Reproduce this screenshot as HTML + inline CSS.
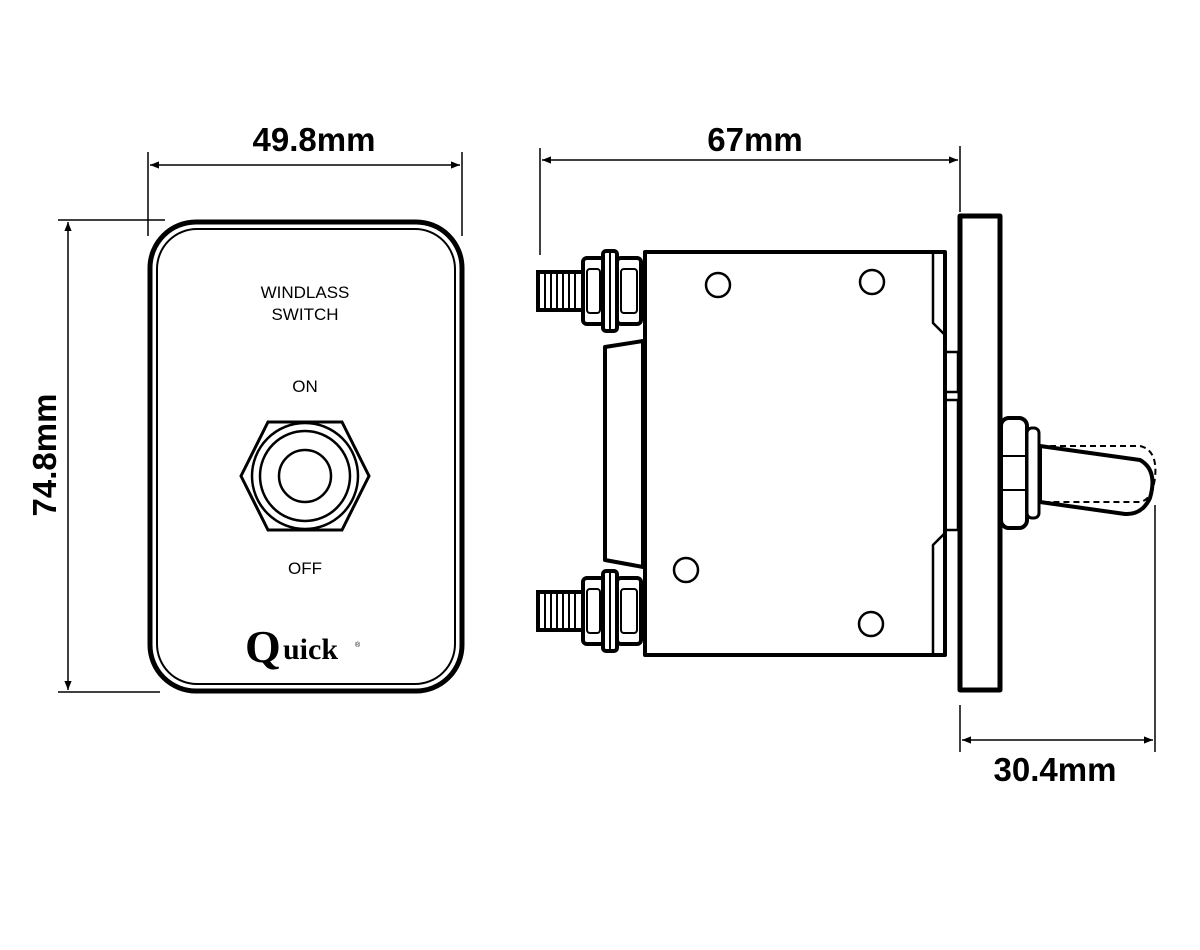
<!DOCTYPE html>
<html><head><style>
html,body{margin:0;padding:0;background:#fff;}
svg{display:block;}
text{font-family:"Liberation Sans",Arial,sans-serif;}
</style></head><body>
<svg width="1200" height="950" viewBox="0 0 1200 950" xmlns="http://www.w3.org/2000/svg">
<defs>
<marker id="ar" viewBox="0 0 10 10" refX="10" refY="5" markerWidth="12" markerHeight="9" orient="auto-start-reverse" markerUnits="userSpaceOnUse">
<path d="M0,1 L10,5 L0,9 Z" fill="#000"/></marker>
<g id="term" stroke="#000" fill="#fff">
<rect x="538" y="-19" width="46" height="38" stroke-width="4"/>
<g stroke-width="2"><line x1="545" y1="-17" x2="545" y2="17"/><line x1="551" y1="-17" x2="551" y2="17"/><line x1="557" y1="-17" x2="557" y2="17"/><line x1="563" y1="-17" x2="563" y2="17"/><line x1="569" y1="-17" x2="569" y2="17"/><line x1="575" y1="-17" x2="575" y2="17"/></g>
<rect x="583" y="-33" width="21" height="66" rx="4" stroke-width="4"/>
<rect x="587" y="-22" width="13" height="44" rx="3" stroke-width="2"/>
<rect x="603" y="-40" width="14" height="80" rx="3" stroke-width="4"/>
<line x1="610" y1="-38" x2="610" y2="38" stroke-width="2"/>
<rect x="617" y="-33" width="24" height="66" rx="4" stroke-width="4"/>
<rect x="621" y="-22" width="16" height="44" rx="3" stroke-width="2"/>
</g>
</defs>

<!-- Front panel -->
<rect x="150" y="222" width="312" height="469" rx="46" fill="#fff" stroke="#000" stroke-width="5"/>
<rect x="157" y="229" width="298" height="455" rx="40" fill="none" stroke="#000" stroke-width="2"/>
<text x="305" y="298" font-size="17" text-anchor="middle">WINDLASS</text>
<text x="305" y="320" font-size="17" text-anchor="middle">SWITCH</text>
<text x="305" y="392" font-size="17" text-anchor="middle">ON</text>
<text x="305" y="574" font-size="17" text-anchor="middle">OFF</text>
<polygon points="241,476 268,422 342,422 369,476 342,530 268,530" fill="#fff" stroke="#000" stroke-width="3"/>
<circle cx="305" cy="476" r="53" fill="none" stroke="#000" stroke-width="2.5"/>
<circle cx="305" cy="476" r="45" fill="none" stroke="#000" stroke-width="2.5"/>
<circle cx="305" cy="476" r="26" fill="none" stroke="#000" stroke-width="2.5"/>
<text x="245" y="662" style="font-family:'Liberation Serif',serif;font-size:46px;font-weight:bold">Q</text>
<text x="283" y="659" style="font-family:'Liberation Serif',serif;font-size:30px;font-weight:bold">uick</text>
<text x="355" y="647" font-size="7">®</text>

<!-- dims -->
<g stroke="#000" stroke-width="1.5" fill="none">
<line x1="148" y1="152" x2="148" y2="236"/>
<line x1="462" y1="152" x2="462" y2="236"/>
<line x1="150" y1="165" x2="460" y2="165" marker-start="url(#ar)" marker-end="url(#ar)"/>
<line x1="58" y1="220" x2="165" y2="220"/>
<line x1="58" y1="692" x2="160" y2="692"/>
<line x1="68" y1="222" x2="68" y2="690" marker-start="url(#ar)" marker-end="url(#ar)"/>
<line x1="540" y1="148" x2="540" y2="255"/>
<line x1="960" y1="146" x2="960" y2="212"/>
<line x1="542" y1="160" x2="958" y2="160" marker-start="url(#ar)" marker-end="url(#ar)"/>
<line x1="960" y1="705" x2="960" y2="752"/>
<line x1="1155" y1="505" x2="1155" y2="752"/>
<line x1="962" y1="740" x2="1153" y2="740" marker-start="url(#ar)" marker-end="url(#ar)"/>
</g>
<text x="314" y="151" font-size="33" font-weight="bold" text-anchor="middle">49.8mm</text>
<text x="755" y="151" font-size="33" font-weight="bold" text-anchor="middle">67mm</text>
<text x="1055" y="781" font-size="33" font-weight="bold" text-anchor="middle">30.4mm</text>
<text transform="translate(56,455) rotate(-90)" font-size="33" font-weight="bold" text-anchor="middle">74.8mm</text>

<!-- side view -->
<g stroke="#000" fill="#fff" stroke-linejoin="round">
<polygon points="605,347 643,341 643,567 605,560" stroke-width="4"/>
<rect x="645" y="252" width="300" height="403" stroke-width="4"/>
<polyline points="933,254 933,323 945,335" fill="none" stroke-width="2.5"/>
<polyline points="933,653 933,545 945,533" fill="none" stroke-width="2.5"/>
<polyline points="945,352 958,352 958,392 945,392" fill="none" stroke-width="2.5"/>
<polyline points="945,400 958,400 958,530 945,530" fill="none" stroke-width="2.5"/>
<circle cx="718" cy="285" r="12" stroke-width="2.5"/>
<circle cx="872" cy="282" r="12" stroke-width="2.5"/>
<circle cx="686" cy="570" r="12" stroke-width="2.5"/>
<circle cx="871" cy="624" r="12" stroke-width="2.5"/>
<rect x="960" y="216" width="40" height="474" stroke-width="5"/>
<path d="M1040,446 L1140,460 Q1158,470 1150,498 Q1142,515 1125,514 L1040,502 Z" stroke-width="4"/>
<path d="M1040,446 L1140,446 Q1158,450 1155,478 Q1152,500 1140,502 L1040,502" fill="none" stroke-width="2" stroke-dasharray="6,4"/>
<rect x="1001" y="418" width="26" height="110" rx="8" stroke-width="4"/>
<line x1="1003" y1="456" x2="1025" y2="456" stroke-width="2"/>
<line x1="1003" y1="490" x2="1025" y2="490" stroke-width="2"/>
<rect x="1027" y="428" width="12" height="90" rx="5" stroke-width="3"/>
</g>
<use href="#term" transform="translate(0,291)"/>
<use href="#term" transform="translate(0,611)"/>
</svg>
</body></html>
